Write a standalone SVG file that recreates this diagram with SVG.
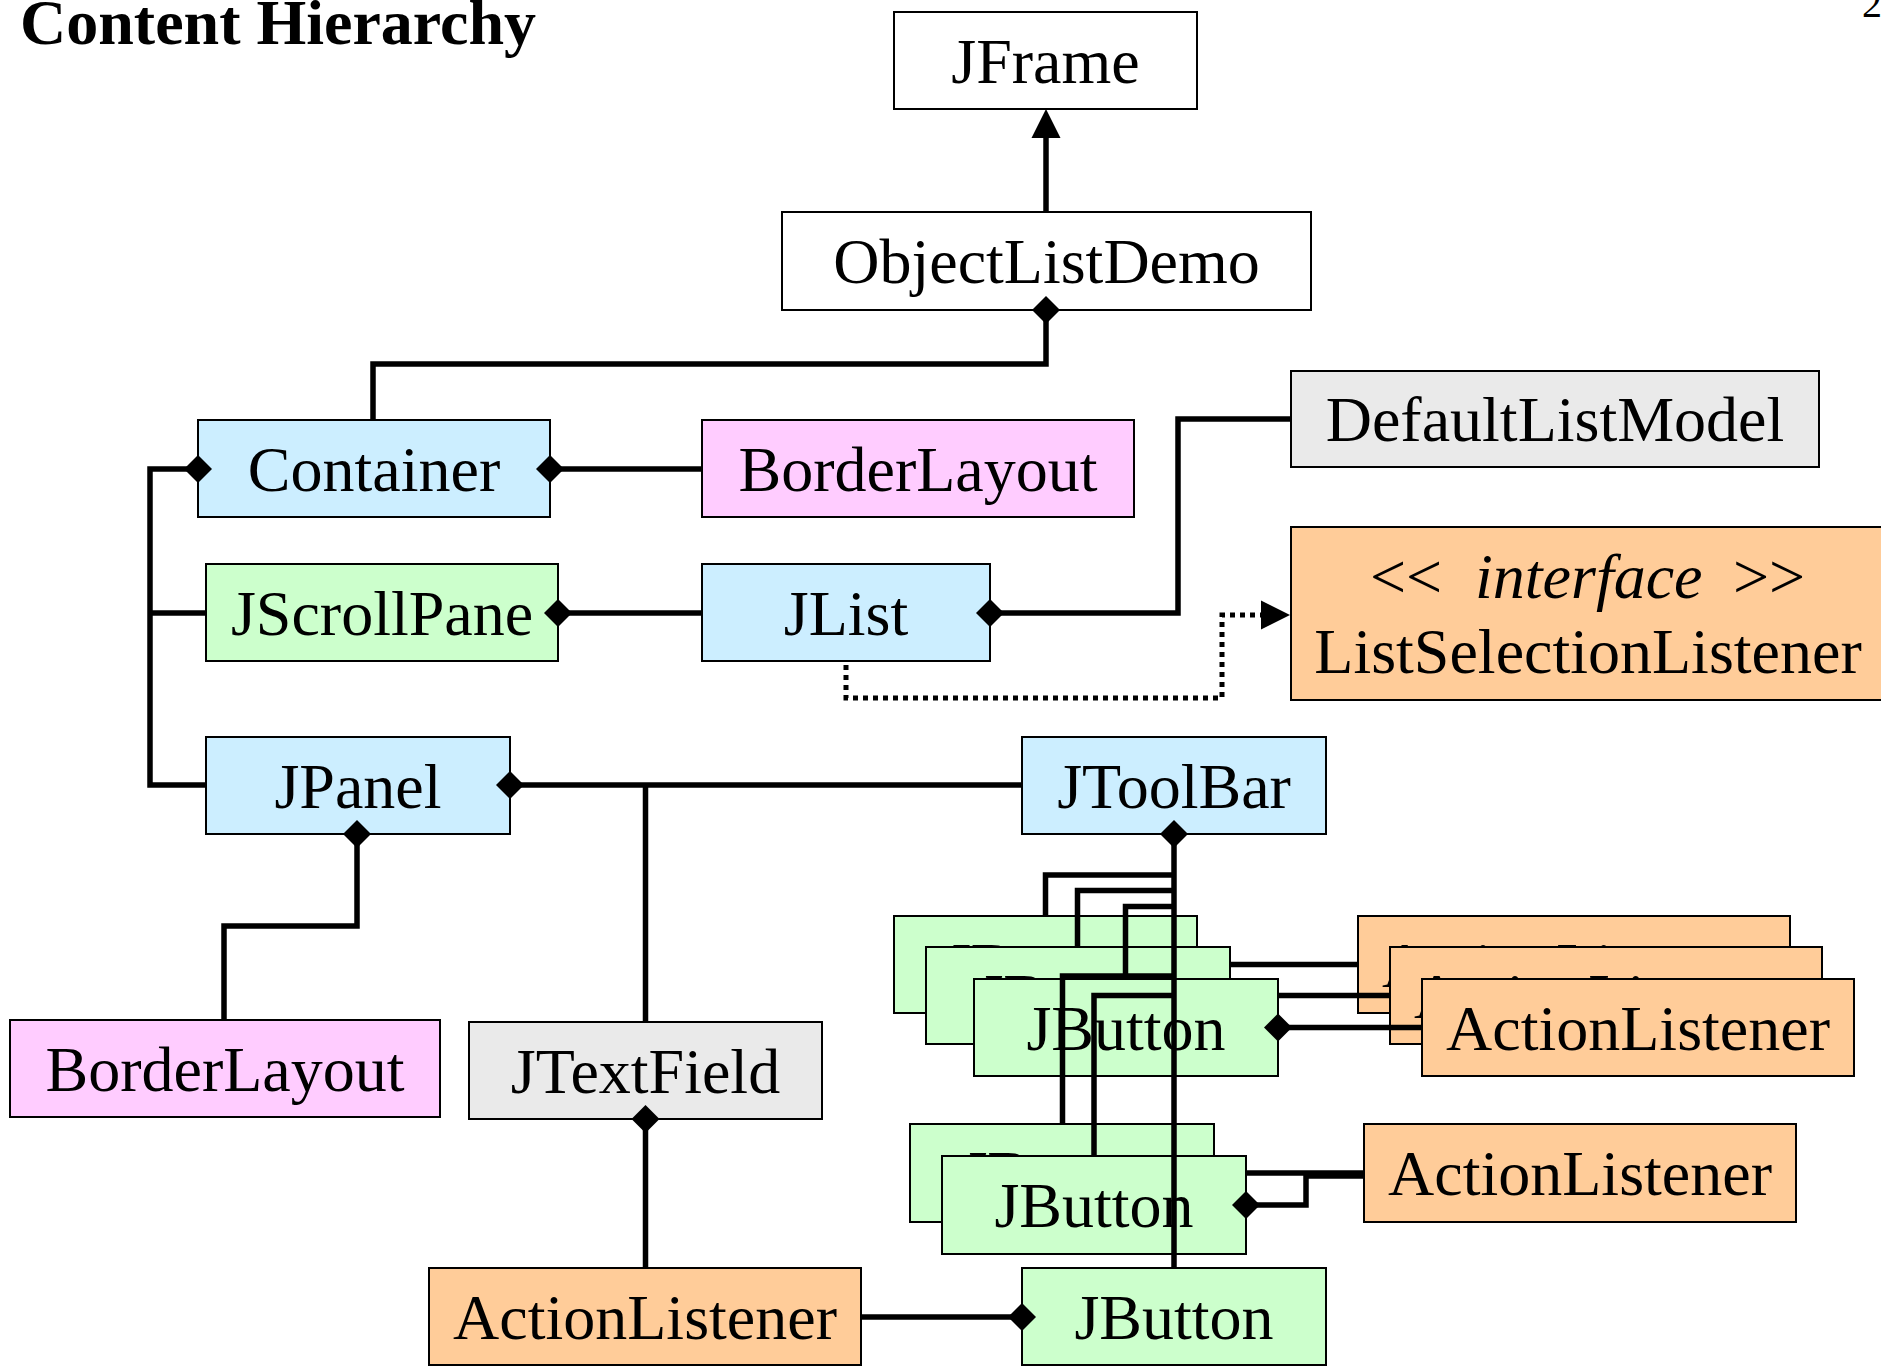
<svg xmlns="http://www.w3.org/2000/svg" width="1881" height="1366" viewBox="0 0 1881 1366">
<style>
.n rect{stroke:#000;stroke-width:2}
.white rect{fill:#fff}
.blue rect{fill:#cceeff}
.green rect{fill:#ccffcc}
.pink rect{fill:#ffccff}
.gray rect{fill:#eaeaea}
.orange rect{fill:#ffcc99}
text{font-family:"Liberation Serif","Times New Roman",serif;fill:#000}
.n text{font-size:64px;text-anchor:middle}
.n text.st{text-anchor:start}
#connectors path{fill:none;stroke:#000;stroke-width:5.5;stroke-linejoin:miter;stroke-linecap:butt}
#connectors path.dot{stroke-dasharray:5 5;stroke-width:5}
</style>
<defs>
<marker id="dia" markerUnits="userSpaceOnUse" markerWidth="30" markerHeight="30" refX="14" refY="14" orient="auto" overflow="visible">
<path d="M0,14 L14,0 L28,14 L14,28 Z" fill="#000"/>
</marker>
<marker id="arr" markerUnits="userSpaceOnUse" markerWidth="30" markerHeight="30" refX="0" refY="14.5" orient="auto" overflow="visible">
<path d="M0,0 L29,14.5 L0,29 Z" fill="#000"/>
</marker>
</defs>
<rect width="1881" height="1366" fill="#fff"/>
<text x="20" y="44" font-size="64" font-weight="bold">Content Hierarchy</text>
<text x="1862" y="17" font-size="40">2</text>

<g id="JFrame" class="n white"><rect x="894" y="12" width="303" height="97"/><text x="1045.5" y="82.5">JFrame</text></g>
<g id="ObjectListDemo" class="n white"><rect x="782" y="212" width="529" height="98"/><text x="1046.5" y="283">ObjectListDemo</text></g>
<g id="Container" class="n blue"><rect x="198" y="420" width="352" height="97"/><text x="374" y="490.5">Container</text></g>
<g id="BorderLayout1" class="n pink"><rect x="702" y="420" width="432" height="97"/><text x="918" y="490.5">BorderLayout</text></g>
<g id="DefaultListModel" class="n gray"><rect x="1291" y="371" width="528" height="96"/><text x="1555" y="441">DefaultListModel</text></g>
<g id="JScrollPane" class="n green"><rect x="206" y="564" width="352" height="97"/><text x="382" y="634.5">JScrollPane</text></g>
<g id="JList" class="n blue"><rect x="702" y="564" width="288" height="97"/><text x="846" y="634.5">JList</text></g>
<g id="ListSelectionListener" class="n orange"><rect x="1291" y="527" width="599" height="173"/><text class="st" x="1370" y="598">&lt;&lt;<tspan x="1475" font-style="italic">interface</tspan><tspan x="1733">&gt;&gt;</tspan></text><text x="1588" y="673">ListSelectionListener</text></g>
<g id="JPanel" class="n blue"><rect x="206" y="737" width="304" height="97"/><text x="358" y="807.5">JPanel</text></g>
<g id="JToolBar" class="n blue"><rect x="1022" y="737" width="304" height="97"/><text x="1174" y="807.5">JToolBar</text></g>
<g id="BorderLayout2" class="n pink"><rect x="10" y="1020" width="430" height="97"/><text x="225" y="1090.5">BorderLayout</text></g>
<g id="JTextField" class="n gray"><rect x="469" y="1022" width="353" height="97"/><text x="645.5" y="1092.5">JTextField</text></g>
<g id="ActionListener0" class="n orange"><rect x="429" y="1268" width="432" height="97"/><text x="645" y="1338.5">ActionListener</text></g>
<g id="JButton0" class="n green"><rect x="1022" y="1268" width="304" height="97"/><text x="1174" y="1338.5">JButton</text></g>

<g id="JButton1a" class="n green"><rect x="894" y="916" width="303" height="97"/><text x="1045.5" y="986.5">JButton</text></g>
<g id="JButton1b" class="n green"><rect x="926" y="947" width="304" height="97"/><text x="1078" y="1017.5">JButton</text></g>
<g id="JButton1c" class="n green"><rect x="974" y="979" width="304" height="97"/><text x="1126" y="1049.5">JButton</text></g>
<g id="ActionListener1a" class="n orange"><rect x="1358" y="916" width="432" height="97"/><text x="1574" y="986.5">ActionListener</text></g>
<g id="ActionListener1b" class="n orange"><rect x="1390" y="947" width="432" height="97"/><text x="1606" y="1017.5">ActionListener</text></g>
<g id="ActionListener1c" class="n orange"><rect x="1422" y="979" width="432" height="97"/><text x="1638" y="1049.5">ActionListener</text></g>

<g id="JButton2a" class="n green"><rect x="910" y="1124" width="304" height="98"/><text x="1062" y="1195">JButton</text></g>
<g id="JButton2b" class="n green"><rect x="942" y="1156" width="304" height="98"/><text x="1094" y="1227">JButton</text></g>
<g id="ActionListener2" class="n orange"><rect x="1364" y="1124" width="432" height="98"/><text x="1580" y="1195">ActionListener</text></g>

<g id="connectors">
<path d="M1046,212 V138" marker-end="url(#arr)"/>
<path d="M1046,310 V364 H373 V420" marker-start="url(#dia)"/>
<path d="M550,469 H702" marker-start="url(#dia)"/>
<path d="M198,469 H150 V785 H206" marker-start="url(#dia)"/>
<path d="M150,613 H206"/>
<path d="M558,613 H702" marker-start="url(#dia)"/>
<path d="M990,613 H1178 V419 H1291" marker-start="url(#dia)"/>
<path class="dot" d="M846,665 V698 H1222 V615 H1261" marker-end="url(#arr)"/>
<path d="M510,785 H1022" marker-start="url(#dia)"/>
<path d="M645.5,785 V1022"/>
<path d="M357,834 V926 H224 V1020" marker-start="url(#dia)"/>
<path d="M645.5,1119 V1268" marker-start="url(#dia)"/>
<path d="M861,1317 H1022" marker-end="url(#dia)"/>
<path d="M1174,834 V1268" marker-start="url(#dia)"/>
<path d="M1174,875 H1045.5 V916"/>
<path d="M1174,890.5 H1077.5 V947"/>
<path d="M1174,906.5 H1125.5 V979"/>
<path d="M1174,976 H1062.5 V1124"/>
<path d="M1174,995.5 H1094 V1156"/>
<path d="M1230,964.5 H1358"/>
<path d="M1278,995.5 H1390"/>
<path d="M1278,1027.5 H1422" marker-start="url(#dia)"/>
<path d="M1246,1173 H1364"/>
<path d="M1246,1205 H1306 V1176 H1364" marker-start="url(#dia)"/>
</g>
</svg>
